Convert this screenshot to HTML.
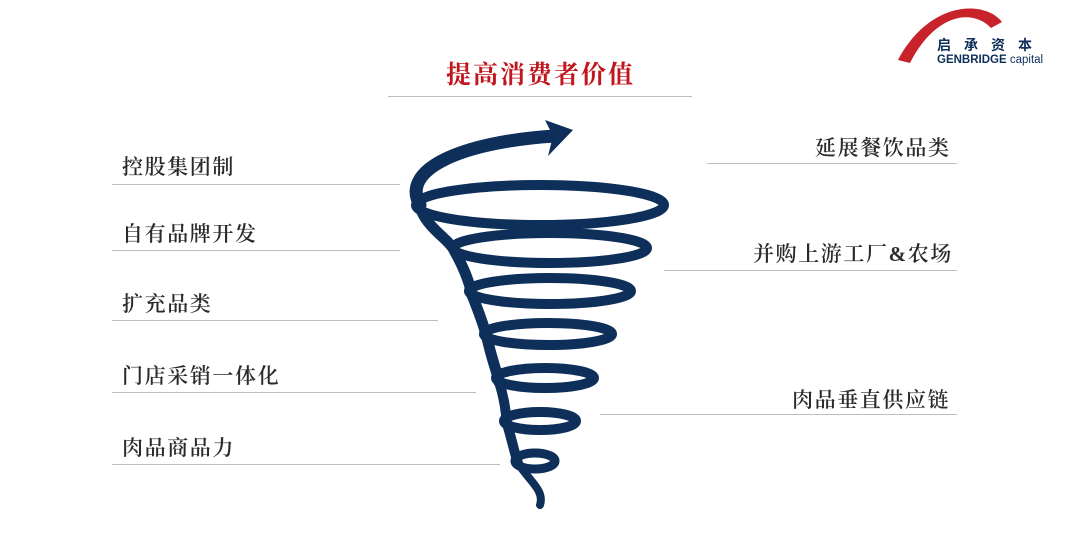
<!DOCTYPE html>
<html><head><meta charset="utf-8"><style>
body{margin:0;width:1080px;height:545px;background:#fff;position:relative;overflow:hidden;font-family:"Liberation Serif","Noto Serif CJK SC",serif}
.t{position:absolute;font-size:21px;color:#2a2a2a;letter-spacing:1.6px;white-space:nowrap;line-height:1;font-weight:600}
.l{position:absolute;height:1px;background:#bdbdbd}
</style></head><body>
<div class="t" style="left:446px;top:63px;font-size:25px;color:#c0161e;font-weight:bold;letter-spacing:2px">提高消费者价值</div>
<div class="l" style="left:388px;top:96px;width:304px"></div>

<div class="t" style="left:122px;top:157px">控股集团制</div>
<div class="l" style="left:112px;top:184px;width:288px"></div>
<div class="t" style="left:122px;top:224px">自有品牌开发</div>
<div class="l" style="left:112px;top:250px;width:288px"></div>
<div class="t" style="left:122px;top:294px">扩充品类</div>
<div class="l" style="left:112px;top:320px;width:326px"></div>
<div class="t" style="left:122px;top:366px">门店采销一体化</div>
<div class="l" style="left:112px;top:392px;width:364px"></div>
<div class="t" style="left:122px;top:438px">肉品商品力</div>
<div class="l" style="left:112px;top:464px;width:388px"></div>

<div class="t" style="left:815px;top:138px">延展餐饮品类</div>
<div class="l" style="left:707px;top:163px;width:250px"></div>
<div class="t" style="left:753px;top:244px">并购上游工厂&amp;农场</div>
<div class="l" style="left:664px;top:270px;width:293px"></div>
<div class="t" style="left:792px;top:390px">肉品垂直供应链</div>
<div class="l" style="left:600px;top:414px;width:357px"></div>

<svg width="1080" height="545" style="position:absolute;left:0;top:0">
<g fill="none" stroke="#0d2f5a" stroke-linecap="round">
<path d="M420,205 C400,170 460,142 555,136" stroke-width="13"/>
<ellipse cx="540" cy="205" rx="124" ry="20" stroke-width="10"/>
<ellipse cx="550" cy="248" rx="97" ry="15" stroke-width="10"/>
<ellipse cx="550" cy="291" rx="81" ry="13" stroke-width="10"/>
<ellipse cx="548" cy="334" rx="64" ry="11" stroke-width="10"/>
<ellipse cx="545" cy="378" rx="49" ry="10" stroke-width="10"/>
<ellipse cx="540" cy="421" rx="36" ry="9" stroke-width="10"/>
<ellipse cx="535" cy="461" rx="20" ry="8" stroke-width="9"/>
<path d="M422,212 C430,230 450,240 455,252" stroke-width="11"/>
<path d="M455,252 C465,270 470,285 472,295" stroke-width="11"/>
<path d="M472,295 C480,315 485,330 487,338" stroke-width="11"/>
<path d="M487,338 C492,360 497,372 499,382" stroke-width="11"/>
<path d="M499,382 C505,400 506,415 507,424" stroke-width="10"/>
<path d="M507,424 C512,440 515,455 518,463" stroke-width="10"/>
<path d="M518,463 C528,480 545,490 540,505" stroke-width="8"/>
</g>
<polygon points="545,120 573,130 548,156 553,136" fill="#0d2f5a"/>
</svg>

<svg width="190" height="70" style="position:absolute;left:890px;top:0px">
<path d="M8,60 C40,0 95,0 112,22 L101,28 C82,8 45,14 20,63 Z" fill="#c8232a"/>
<text x="47" y="50" font-family="Liberation Sans,'Noto Sans CJK SC',sans-serif" font-size="14" font-weight="bold" fill="#0d2f5a" letter-spacing="13">启承资本</text>
<text x="47" y="63" font-family="Liberation Sans,sans-serif" font-size="11.5" font-weight="bold" fill="#0d2f5a">GENBRIDGE <tspan font-weight="normal">capital</tspan></text>
</svg>
</body></html>
